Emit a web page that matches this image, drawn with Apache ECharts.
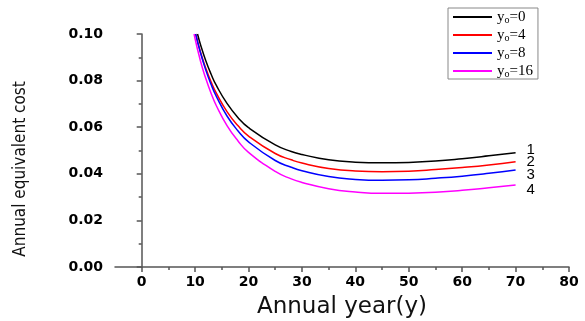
<!DOCTYPE html>
<html>
<head>
<meta charset="utf-8">
<script src="https://cdn.jsdelivr.net/npm/echarts@6/dist/echarts.min.js"></script>
<style>
  html, body { margin: 0; padding: 0; background: #fff; }
  #chart { width: 585px; height: 321px; }
</style>
</head>
<body>
<div id="chart"></div>
<script>
// common years after the first point of each curve
const years = [11, 12, 13, 14, 16, 18, 20, 25, 28, 30, 35, 40, 45, 50, 55, 60, 65, 70];
// each curve enters the plot at y = 0.10 at a slightly different year
const startYears = [10.45, 10.1, 10.1, 9.8];

const cost0 = [0.100, 0.0955, 0.0885, 0.0827, 0.0778, 0.0701, 0.0642, 0.0598, 0.0524, 0.0496, 0.0483, 0.0460, 0.0450, 0.0447, 0.0449, 0.0455, 0.0465, 0.0477, 0.0490];
const cost4 = [0.100, 0.0923, 0.0853, 0.0794, 0.0745, 0.0666, 0.0607, 0.0562, 0.0487, 0.0460, 0.0446, 0.0423, 0.0412, 0.0409, 0.0411, 0.0418, 0.0427, 0.0438, 0.0452];
const cost8 = [0.100, 0.0920, 0.0845, 0.0783, 0.0731, 0.0647, 0.0585, 0.0537, 0.0457, 0.0428, 0.0413, 0.0388, 0.0376, 0.0372, 0.0374, 0.0381, 0.0390, 0.0402, 0.0416];
const cost16 = [0.100, 0.0884, 0.0809, 0.0745, 0.0691, 0.0606, 0.0542, 0.0492, 0.0410, 0.0378, 0.0363, 0.0336, 0.0322, 0.0316, 0.0317, 0.0321, 0.0329, 0.0340, 0.0352];

const seriesNames = ['yo=0', 'yo=4', 'yo=8', 'yo=16'];
const curveLabels = ['1', '2', '3', '4'];
const xMajorTicks = [0, 10, 20, 30, 40, 50, 60, 70, 80];
const xMinorTicks = [5, 15, 25, 35, 45, 55, 65, 75];

const colors = ['#000000', '#ff0000', '#0000ff', '#ff00ff'];
const labelOffsets = [-3, 0, 5, 5];

const chart = echarts.init(document.getElementById('chart'));

const toPairs = (idx, values) =>
  values.map((v, i) => [i === 0 ? startYears[idx] : years[i - 1], v]);

const axisColor = '#555';

const option = {
  animation: false,
  grid: { left: 115, right: 16, top: 34, bottom: 54, outerBoundsMode: 'none' },
  legend: {
    orient: 'vertical',
    left: 448,
    top: 8,
    padding: [1, 5, 0, 5],
    itemGap: 2,
    itemWidth: 39,
    itemHeight: 2,
    icon: 'rect',
    borderColor: '#888',
    borderWidth: 1,
    data: seriesNames,
    formatter: (name) => 'y{s|o}' + name.slice(2),
    textStyle: {
      fontFamily: 'Liberation Serif',
      fontSize: 15,
      lineHeight: 14,
      color: '#000',
      rich: {
        s: { fontFamily: 'Liberation Serif', fontSize: 10, lineHeight: 10, padding: [6, 0, 0, 0] }
      }
    }
  },
  xAxis: [{
    type: 'value',
    min: -5,
    max: 80,
    name: 'Annual year(y)',
    nameLocation: 'middle',
    nameGap: 29,
    nameTextStyle: { fontFamily: 'DejaVu Sans', fontSize: 23, color: '#111' },
    splitLine: { show: false },
    axisLine: { lineStyle: { color: axisColor, width: 1.5 } },
    axisTick: { length: 5, lineStyle: { color: axisColor, width: 1.5 }, customValues: xMajorTicks },
    axisLabel: {
      customValues: xMajorTicks,
      margin: 8,
      fontFamily: 'DejaVu Sans',
      fontWeight: 'bold',
      fontSize: 14,
      color: '#000'
    }
  }, {
    type: 'value',
    min: -5,
    max: 80,
    position: 'bottom',
    splitLine: { show: false },
    axisLine: { show: false },
    axisTick: { length: 3, lineStyle: { color: axisColor, width: 1.5 }, customValues: xMinorTicks },
    axisLabel: { show: false }
  }],
  yAxis: {
    type: 'value',
    min: 0,
    max: 0.1,
    interval: 0.02,
    name: 'Annual equivalent cost',
    nameLocation: 'middle',
    nameGap: 86,
    nameTextStyle: {
      fontFamily: 'Liberation Sans Narrow, DejaVu Sans Condensed',
      fontSize: 17,
      color: '#111',
      padding: [0, 37, 0, 0]
    },
    splitLine: { show: false },
    axisLine: { show: true, lineStyle: { color: axisColor, width: 1.5 } },
    axisTick: { length: 5, lineStyle: { color: axisColor, width: 1.5 } },
    minorTick: { show: true, splitNumber: 2, length: 3, lineStyle: { color: axisColor, width: 1.5 } },
    axisLabel: {
      margin: 12,
      formatter: (v) => v.toFixed(2),
      fontFamily: 'DejaVu Sans',
      fontWeight: 'bold',
      fontSize: 14,
      color: '#000'
    }
  },
  series: [cost0, cost4, cost8, cost16].map((values, idx) => ({
    name: seriesNames[idx],
    type: 'line',
    xAxisIndex: 0,
    data: toPairs(idx, values),
    smooth: 0.5,
    symbol: 'none',
    lineStyle: { color: colors[idx], width: 1.5 },
    itemStyle: { color: colors[idx] },
    endLabel: {
      show: true,
      formatter: () => curveLabels[idx],
      offset: [3, labelOffsets[idx]],
      fontFamily: 'Liberation Sans',
      fontSize: 15,
      color: '#000'
    }
  }))
};

chart.setOption(option);
</script>
</body>
</html>
